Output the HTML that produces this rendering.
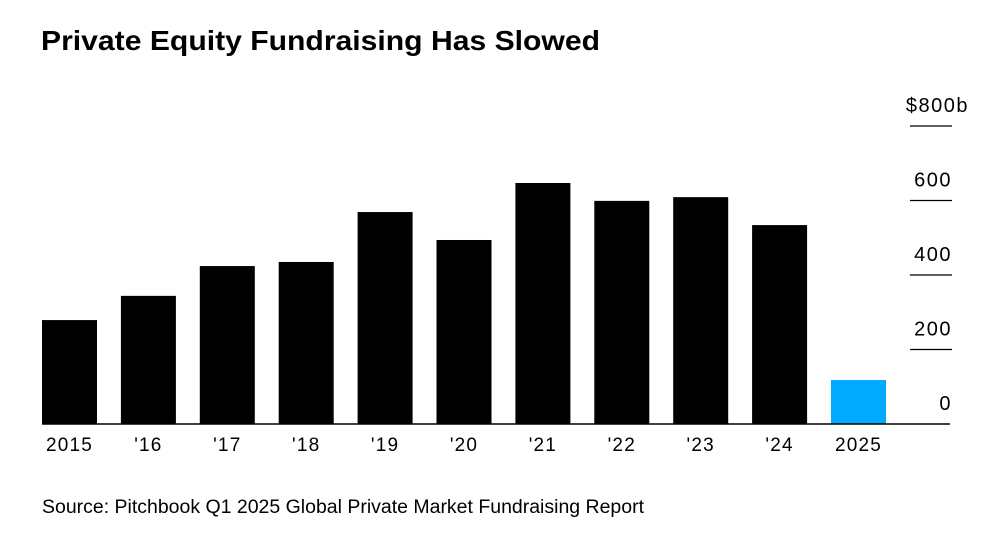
<!DOCTYPE html>
<html><head><meta charset="utf-8"><style>
body{margin:0;background:#fff;width:989px;height:544px;overflow:hidden;font-family:"Liberation Sans",sans-serif}
</style></head><body>
<svg width="989" height="544">
<text x="41" y="50" font-size="28" font-weight="bold" fill="#000" textLength="559" lengthAdjust="spacingAndGlyphs">Private Equity Fundraising Has Slowed</text>
<g id="axis"></g>
<g id="bars"></g>
<g id="xl"></g>
<line x1="42" y1="424" x2="950" y2="424" stroke="#000" stroke-width="1.5"/>
<text x="42" y="513" font-size="19" fill="#000" textLength="602" lengthAdjust="spacingAndGlyphs">Source: Pitchbook Q1 2025 Global Private Market Fundraising Report</text>
</svg>
<script>
const categories=["2015","'16","'17","'18","'19","'20","'21","'22","'23","'24","2025"];
const values=[279,344,424,435,569,494,647,599,609,534,118];
const yTicks=[0,200,400,600,800];
const yTickLabels=["0","200","400","600","$800b"];
const NS="http://www.w3.org/2000/svg";
const y0=424,pxPer=74.5/200;
const y=v=>y0-v*pxPer;
const x=i=>42+i*78.9;
const bw=55;
function mk(t,a,p){const e=document.createElementNS(NS,t);for(const k in a)e.setAttribute(k,a[k]);p.appendChild(e);return e;}
const ax=document.getElementById('axis');
yTicks.forEach((t,i)=>{
 if(t>0){const l=mk('line',{x1:910,x2:952,y1:y(t),y2:y(t),stroke:'#000','stroke-width':1.2},ax);
 
 }
 const tx=mk('text',{x:i==4?969:952,y:y(t)-14,'font-size':20,'letter-spacing':1.5,'text-anchor':'end',fill:'#000'},ax);
 tx.textContent=yTickLabels[i];
 
 
});
const bg=document.getElementById('bars'),xl=document.getElementById('xl');
values.forEach((v,i)=>{
 const r=mk('rect',{x:x(i),y:y(v),width:bw,height:y0-y(v),fill:i==10?'#00aaff':'#000'},bg);
 
 
 const t=mk('text',{x:x(i)+bw/2,y:451,'font-size':19,'letter-spacing':1.2,'text-anchor':'middle',fill:'#000'},xl);
 t.textContent=categories[i];
 
 
});
</script>
</body></html>
